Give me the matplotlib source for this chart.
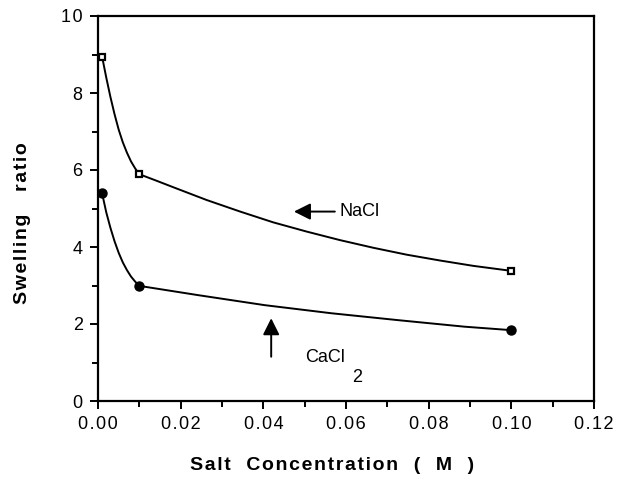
import matplotlib
matplotlib.use("Agg")
import matplotlib.pyplot as plt
from matplotlib.ticker import MultipleLocator, FuncFormatter

plt.rcParams['font.family'] = ['Liberation Sans', 'DejaVu Sans']

# measured data points
nacl_x = [0.001, 0.01, 0.10]
nacl_y = [8.94, 5.89, 3.38]
cacl_x = [0.001, 0.01, 0.10]
cacl_y = [5.39, 2.99, 1.84]

# fitted curves
nacl_cx = [0.001, 0.002, 0.003, 0.004, 0.005, 0.006, 0.007, 0.008, 0.009, 0.010,
           0.0137, 0.0190, 0.0263, 0.0344, 0.0424, 0.0505, 0.0585, 0.0666,
           0.0747, 0.0827, 0.0908, 0.100]
nacl_cy = [8.94, 8.40, 7.90, 7.45, 7.05, 6.72, 6.45, 6.22, 6.04, 5.89,
           5.74, 5.52, 5.22, 4.92, 4.64, 4.40, 4.18, 3.98,
           3.80, 3.65, 3.51, 3.38]
cacl_cx = [0.001, 0.002, 0.003, 0.004, 0.005, 0.006, 0.007, 0.008, 0.009, 0.010,
           0.0242, 0.0403, 0.0564, 0.0726, 0.0887, 0.100]
cacl_cy = [5.39, 4.90, 4.50, 4.15, 3.85, 3.60, 3.40, 3.23, 3.10, 2.99,
           2.75, 2.49, 2.28, 2.10, 1.93, 1.84]

xticks = [0.00, 0.02, 0.04, 0.06, 0.08, 0.10, 0.12]
yticks = [0, 2, 4, 6, 8, 10]

SP = '\u200a'


def spaced(s):
    return SP.join(s)


fig = plt.figure(figsize=(6.18, 4.82), dpi=100)
ax = fig.add_axes([98/618, 1-401/482, (594-98)/618, (401-16)/482])

ax.plot(nacl_cx, nacl_cy, color='black', lw=1.4, zorder=2)
ax.plot(cacl_cx, cacl_cy, color='black', lw=1.4, zorder=2)
ax.plot(nacl_x, nacl_y, ls='none', marker='s', ms=5, mfc='white', mec='black', mew=1.6, zorder=3)
ax.plot(cacl_x, cacl_y, ls='none', marker='o', ms=6.5, mfc='black', mec='black', zorder=3)

ax.set_xlim(0, 0.12)
ax.set_ylim(0, 10)
ax.set_xticks(xticks)
ax.set_yticks(yticks)
ax.xaxis.set_major_formatter(FuncFormatter(lambda v, p: spaced('%.2f' % v)))
ax.yaxis.set_major_formatter(FuncFormatter(lambda v, p: spaced('%d' % round(v))))
ax.xaxis.set_minor_locator(MultipleLocator(0.01))
ax.yaxis.set_minor_locator(MultipleLocator(1))
ax.tick_params(which='both', direction='out', top=False, right=False, width=1.4, labelsize=13)
ax.tick_params(which='major', length=6, pad=5)
ax.tick_params(which='minor', length=4)
for s in ax.spines.values():
    s.set_linewidth(1.6)

ax.set_xlabel(spaced('Salt  Concentration  (  M  )'), fontsize=14, fontweight='bold')
ax.xaxis.set_label_coords(0.472, -0.145)
ax.set_ylabel(spaced('Swelling   ratio'), fontsize=14, fontweight='bold')
ax.yaxis.set_label_coords(-0.135, 0.462)

arrow = dict(arrowstyle='-|>,head_length=1.0,head_width=0.5', color='black', lw=1.4,
             shrinkA=0, shrinkB=0)
ax.annotate('', xy=(0.0474, 4.92), xytext=(0.0573, 4.92), arrowprops=arrow)
ax.text(0.0585, 4.92, 'NaCl', fontsize=13, va='center', ha='left')
ax.annotate('', xy=(0.0419, 2.15), xytext=(0.0419, 1.15), arrowprops=arrow)
ax.text(0.0501, 1.12, 'CaCl', fontsize=13, va='center', ha='left')
ax.text(0.0614, 0.60, '2', fontsize=13, va='center', ha='left')

fig.savefig('out.png', dpi=100)
